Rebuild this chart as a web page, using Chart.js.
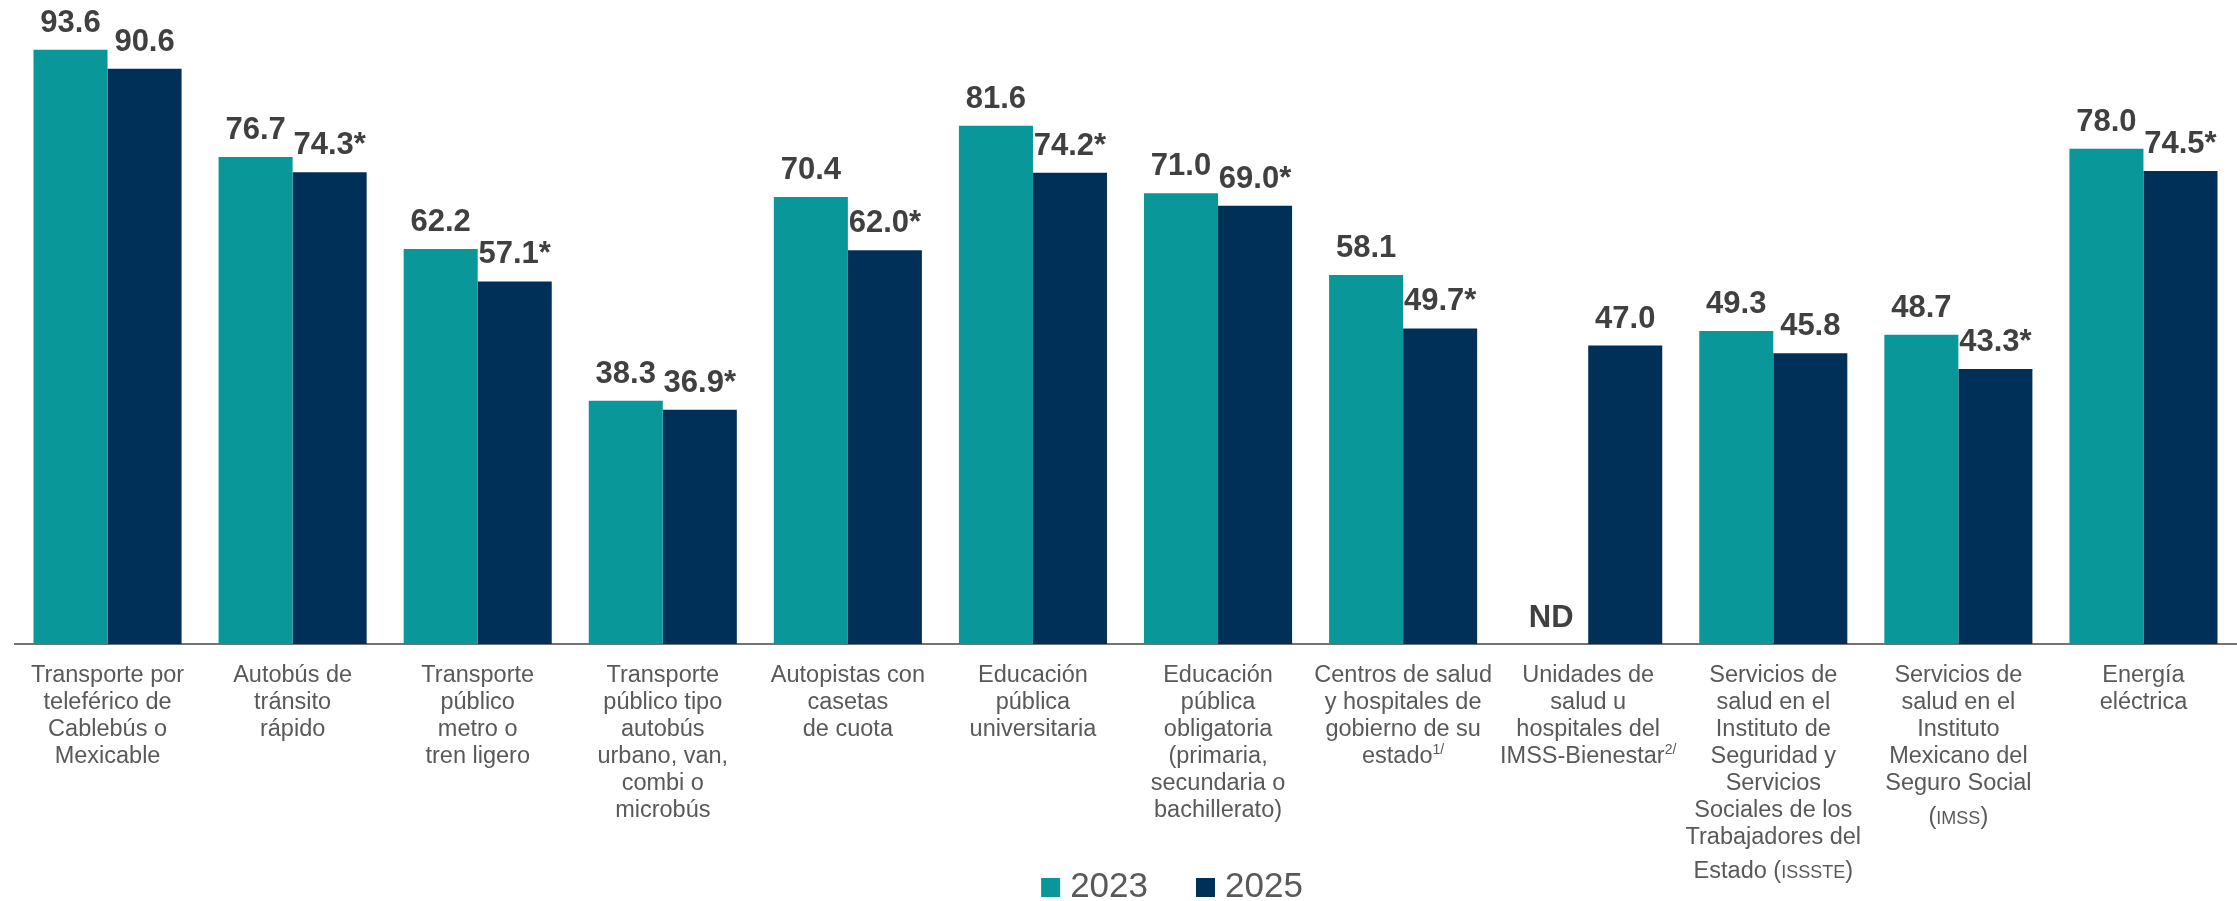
<!DOCTYPE html>
<html lang="es">
<head>
<meta charset="utf-8">
<title>Percepción de calidad de servicios públicos 2023 y 2025</title>
<script src="https://cdn.jsdelivr.net/npm/chart.js@4/dist/chart.umd.min.js"></script>
<style>
  html, body { margin: 0; padding: 0; background: #ffffff; }
  #wrap { width: 2237px; height: 901px; }
  canvas { display: block; }
</style>
</head>
<body>
<div id="wrap"><canvas id="chart" width="2237" height="901"></canvas></div>
<script>
// Category labels, one array of lines per category
const categories = [
  ['Transporte por', 'teleférico de', 'Cablebús o', 'Mexicable'],
  ['Autobús de', 'tránsito', 'rápido'],
  ['Transporte', 'público', 'metro o', 'tren ligero'],
  ['Transporte', 'público tipo', 'autobús', 'urbano, van,', 'combi o', 'microbús'],
  ['Autopistas con', 'casetas', 'de cuota'],
  ['Educación', 'pública', 'universitaria'],
  ['Educación', 'pública', 'obligatoria', '(primaria,', 'secundaria o', 'bachillerato)'],
  ['Centros de salud', 'y hospitales de', 'gobierno de su', 'estado'],
  ['Unidades de', 'salud u', 'hospitales del', 'IMSS-Bienestar'],
  ['Servicios de', 'salud en el', 'Instituto de', 'Seguridad y', 'Servicios', 'Sociales de los', 'Trabajadores del', 'Estado (ISSSTE)'],
  ['Servicios de', 'salud en el', 'Instituto', 'Mexicano del', 'Seguro Social', '(IMSS)'],
  ['Energía', 'eléctrica']
];
// Footnote markers written as superscripts after the last line
const footnotes = ['', '', '', '', '', '', '', '1/', '2/', '', '', ''];

const seriesNames = ['2023', '2025'];
const values2023 = [93.6, 76.7, 62.2, 38.3, 70.4, 81.6, 71.0, 58.1, null, 49.3, 48.7, 78.0];
const values2025 = [90.6, 74.3, 57.1, 36.9, 62.0, 74.2, 69.0, 49.7, 47.0, 45.8, 43.3, 74.5];
// Statistically significant change (marked with an asterisk)
const significant2023 = [false, false, false, false, false, false, false, false, false, false, false, false];
const significant2025 = [false, true, true, true, true, true, true, true, false, false, true, true];
const missingLabel = 'ND';

const TEAL = '#09979A';
const NAVY = '#003057';
const FONT = '"Liberation Sans", Arial, Helvetica, sans-serif';

Chart.defaults.font.family = FONT;

// Value labels above bars ("ND" where there is no value)
const valueLabels = {
  id: 'valueLabels',
  afterDatasetsDraw(chart) {
    const ctx = chart.ctx;
    const yScale = chart.scales.y;
    ctx.save();
    ctx.font = 'bold 31px ' + FONT;
    ctx.fillStyle = '#404040';
    ctx.textAlign = 'center';
    ctx.textBaseline = 'alphabetic';
    chart.data.datasets.forEach((ds, di) => {
      const meta = chart.getDatasetMeta(di);
      meta.data.forEach((el, i) => {
        const v = ds.data[i];
        if (v === null || v === undefined) {
          ctx.fillText(missingLabel, el.x, yScale.getPixelForValue(0) - 17);
        } else {
          const txt = v.toFixed(1) + (ds.flags[i] ? '*' : '');
          ctx.fillText(txt, el.x, el.y - 18);
        }
      });
    });
    ctx.restore();
  }
};

// Multi-line category labels under the axis, with smaller acronyms and superscript notes
const categoryLabels = {
  id: 'categoryLabels',
  afterDraw(chart) {
    const ctx = chart.ctx;
    const xScale = chart.scales.x;
    const normal = '23.5px ' + FONT;
    const small = '18px ' + FONT;
    const sup = '14px ' + FONT;
    ctx.save();
    ctx.fillStyle = '#595959';
    ctx.textAlign = 'left';
    ctx.textBaseline = 'alphabetic';
    categories.forEach((lines, i) => {
      const cx = xScale.getPixelForValue(i);
      let y = xScale.top + 38;
      lines.forEach((line, li) => {
        const segs = [];
        line.split(/(\([A-Z]+\))/).forEach(part => {
          if (!part) return;
          const m = part.match(/^\(([A-Z]+)\)$/);
          if (m) {
            segs.push({ t: '(', f: normal, dy: 0 });
            segs.push({ t: m[1], f: small, dy: 0 });
            segs.push({ t: ')', f: normal, dy: 0 });
          } else {
            segs.push({ t: part, f: normal, dy: 0 });
          }
        });
        const hasAcronym = /\([A-Z]+\)/.test(line);
        if (li === lines.length - 1 && footnotes[i]) {
          segs.push({ t: footnotes[i], f: sup, dy: -9 });
        }
        if (li > 0) y += 27 + (hasAcronym ? 7 : 0);
        let total = 0;
        segs.forEach(s => { ctx.font = s.f; s.w = ctx.measureText(s.t).width; total += s.w; });
        let x = cx - total / 2;
        segs.forEach(s => {
          ctx.font = s.f;
          ctx.fillText(s.t, x, y + s.dy);
          x += s.w;
        });
      });
    });
    ctx.restore();
  }
};

// Legend centred below the labels
const bottomLegend = {
  id: 'bottomLegend',
  afterDraw(chart) {
    const ctx = chart.ctx;
    const box = 19, gap = 10, itemGap = 48, baseline = 897, centerX = 1172;
    ctx.save();
    ctx.font = '35px ' + FONT;
    ctx.textBaseline = 'alphabetic';
    ctx.textAlign = 'left';
    const items = chart.data.datasets.map(ds => ({
      text: ds.label, color: ds.backgroundColor, w: ctx.measureText(ds.label).width
    }));
    let total = items.reduce((a, it) => a + box + gap + it.w, 0) + itemGap * (items.length - 1);
    let x = centerX - total / 2;
    items.forEach(it => {
      ctx.fillStyle = it.color;
      ctx.fillRect(x, baseline - box, box, box);
      x += box + gap;
      ctx.fillStyle = '#595959';
      ctx.fillText(it.text, x, baseline);
      x += it.w + itemGap;
    });
    ctx.restore();
  }
};

new Chart(document.getElementById('chart'), {
  type: 'bar',
  data: {
    labels: categories.map(l => l.join(' ')),
    datasets: [
      { label: seriesNames[0], data: values2023, flags: significant2023, backgroundColor: TEAL,
        categoryPercentage: 0.8, barPercentage: 1.0, borderWidth: 0 },
      { label: seriesNames[1], data: values2025, flags: significant2025, backgroundColor: NAVY,
        categoryPercentage: 0.8, barPercentage: 1.0, borderWidth: 0 }
    ]
  },
  options: {
    responsive: false,
    animation: false,
    devicePixelRatio: 1,
    layout: { padding: { top: 9, left: 15, right: 1, bottom: 0 } },
    plugins: {
      legend: { display: false },
      tooltip: { enabled: false }
    },
    scales: {
      x: {
        grid: { display: false },
        border: { display: true, color: '#737373', width: 2 },
        ticks: { display: false },
        afterFit(scale) { scale.height = 257; }
      },
      y: {
        display: false,
        min: 0,
        max: 100,
        grid: { display: false }
      }
    }
  },
  plugins: [valueLabels, categoryLabels, bottomLegend]
});
</script>
</body>
</html>
